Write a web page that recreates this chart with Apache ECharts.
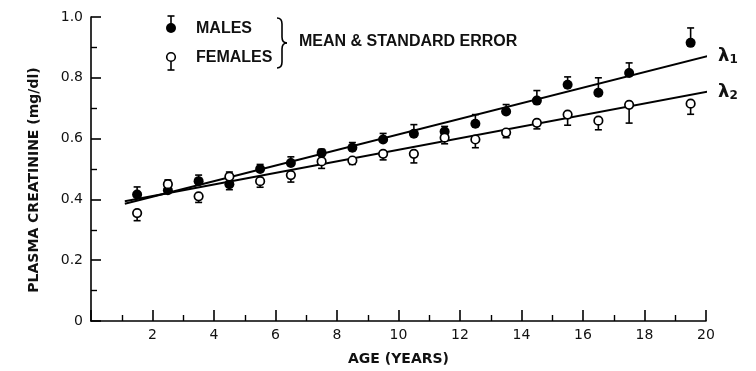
<!DOCTYPE html>
<html>
<head>
<meta charset="utf-8">
<script src="https://cdn.jsdelivr.net/npm/echarts@6/dist/echarts.min.js"></script>
<style>
  html, body { margin: 0; padding: 0; background: #fff; }
  #chart { width: 756px; height: 371px; }
</style>
</head>
<body>
<div id="chart"></div>
<script>
// age groups (years)
var ages = [1.5, 2.5, 3.5, 4.5, 5.5, 6.5, 7.5, 8.5, 9.5, 10.5, 11.5, 12.5, 13.5, 14.5, 15.5, 16.5, 17.5, 19.5];
// plasma creatinine mean and standard error (mg/dl)
var malesMean = [0.416, 0.43, 0.46, 0.45, 0.50, 0.52, 0.553, 0.57, 0.597, 0.616, 0.623, 0.649, 0.689, 0.725, 0.777, 0.751, 0.816, 0.915];
var malesSE = [0.025, 0.034, 0.02, 0.04, 0.015, 0.02, 0.012, 0.017, 0.02, 0.03, 0.017, 0.03, 0.023, 0.033, 0.026, 0.049, 0.033, 0.049];
var femalesMean = [0.355, 0.45, 0.41, 0.475, 0.46, 0.48, 0.525, 0.528, 0.55, 0.55, 0.603, 0.597, 0.62, 0.652, 0.679, 0.659, 0.711, 0.715];
var femalesSE = [0.025, 0.02, 0.02, 0.043, 0.02, 0.023, 0.023, 0.013, 0.02, 0.03, 0.02, 0.027, 0.017, 0.02, 0.035, 0.03, 0.06, 0.035];
// fitted lines, end points [age, value]
var lambda1 = [[1.1, 0.386], [20.2, 0.875]];
var lambda2 = [[1.1, 0.394], [20.2, 0.757]];
var yTicks = [0, 0.2, 0.4, 0.6, 0.8, 1.0];

var font = 'Liberation Sans, Arial, sans-serif';
var wide = 'DejaVu Sans, sans-serif';
var ink = { stroke: '#000', lineWidth: 1.6 };

function pairs(xs, ys, extra) {
  return xs.map(function (x, i) {
    return extra ? [x, ys[i], extra[i]] : [x, ys[i]];
  });
}

// error bar: dir 1 = upward, -1 = downward
function errorBar(dir) {
  return function (params, api) {
    var p0 = api.coord([api.value(0), api.value(1)]);
    var p1 = api.coord([api.value(0), api.value(1) + dir * api.value(2)]);
    return {
      type: 'group',
      children: [
        { type: 'line', shape: { x1: p0[0], y1: p0[1], x2: p1[0], y2: p1[1] }, style: ink },
        { type: 'line', shape: { x1: p1[0] - 3.5, y1: p1[1], x2: p1[0] + 3.5, y2: p1[1] }, style: ink }
      ]
    };
  };
}

function seg(x1, y1, x2, y2) {
  return { type: 'line', shape: { x1: x1, y1: y1, x2: x2, y2: y2 }, style: ink };
}
function curve(x1, y1, cx, cy, x2, y2) {
  return { type: 'bezierCurve', shape: { x1: x1, y1: y1, cpx1: cx, cpy1: cy, x2: x2, y2: y2 }, style: { stroke: '#000', lineWidth: 1.6, fill: null } };
}

var option = {
  animation: false,
  grid: { left: 91, right: 50, top: 17, bottom: 49 },
  xAxis: {
    type: 'value',
    min: 0,
    max: 20,
    interval: 2,
    name: 'AGE (YEARS)',
    nameLocation: 'middle',
    nameGap: 31,
    nameTextStyle: { fontFamily: wide, fontSize: 14, fontWeight: 'bold', color: '#111' },
    axisLine: { lineStyle: { color: '#000', width: 1.6 } },
    axisTick: { inside: true, length: 11, lineStyle: { color: '#000', width: 1.6 } },
    minorTick: { show: true, splitNumber: 2, length: 6, lineStyle: { color: '#000', width: 1.4 } },
    axisLabel: {
      fontFamily: wide, fontSize: 14, color: '#111', margin: 7,
      formatter: function (v) { return v === 0 ? '' : String(v); }
    },
    splitLine: { show: false }
  },
  yAxis: {
    type: 'value',
    min: 0,
    max: 1,
    interval: 0.2,
    name: 'PLASMA CREATININE (mg/dl)',
    nameLocation: 'middle',
    nameGap: 50,
    nameTextStyle: { fontFamily: wide, fontSize: 14, fontWeight: 'bold', color: '#111', padding: [0, 22, 0, 0] },
    axisLine: { lineStyle: { color: '#000', width: 1.6 } },
    axisTick: { inside: true, length: 10, lineStyle: { color: '#000', width: 1.6 } },
    minorTick: { show: true, splitNumber: 2, length: 6, lineStyle: { color: '#000', width: 1.4 } },
    axisLabel: {
      fontFamily: wide, fontSize: 14, color: '#111', margin: 8,
      formatter: function (v) {
        var t = yTicks.filter(function (k) { return Math.abs(k - v) < 1e-6; })[0];
        return t === 0 ? '0' : t.toFixed(1);
      }
    },
    splitLine: { show: false }
  },
  graphic: [
    // legend
    seg(171, 28, 171, 16),
    seg(167.5, 16, 174.5, 16),
    { type: 'circle', shape: { cx: 171, cy: 28, r: 5 }, style: { fill: '#000' } },
    seg(171, 57, 171, 70),
    seg(167.5, 70, 174.5, 70),
    { type: 'circle', shape: { cx: 171, cy: 57, r: 4.3 }, style: { fill: '#fff', stroke: '#000', lineWidth: 1.6 } },
    { type: 'text', x: 196, y: 21, style: { text: 'MALES', font: 'bold 16px ' + font, fill: '#111' } },
    { type: 'text', x: 196, y: 50, style: { text: 'FEMALES', font: 'bold 16px ' + font, fill: '#111' } },
    // brace
    curve(277, 18, 282, 18, 282, 24),
    seg(282, 24, 282, 37),
    curve(282, 37, 282, 43, 287, 43),
    curve(287, 43, 282, 43, 282, 49),
    seg(282, 49, 282, 62),
    curve(282, 62, 282, 68, 277, 68),
    { type: 'text', x: 299, y: 34, style: { text: 'MEAN & STANDARD ERROR', font: 'bold 16px ' + font, fill: '#111' } }
  ],
  series: [
    {
      type: 'line',
      data: lambda1,
      showSymbol: false,
      lineStyle: { color: '#000', width: 2 },
      endLabel: {
        show: true,
        distance: 11,
        formatter: 'λ{s|1}',
        fontFamily: wide, fontSize: 18, fontWeight: 'bold', color: '#111',
        rich: { s: { fontFamily: wide, fontSize: 12, fontWeight: 'bold', color: '#111', padding: [8, 0, 0, 0] } }
      },
      z: 3
    },
    {
      type: 'line',
      data: lambda2,
      showSymbol: false,
      lineStyle: { color: '#000', width: 2 },
      endLabel: {
        show: true,
        distance: 11,
        formatter: 'λ{s|2}',
        fontFamily: wide, fontSize: 18, fontWeight: 'bold', color: '#111',
        rich: { s: { fontFamily: wide, fontSize: 12, fontWeight: 'bold', color: '#111', padding: [8, 0, 0, 0] } }
      },
      z: 3
    },
    {
      type: 'custom',
      renderItem: errorBar(1),
      data: pairs(ages, malesMean, malesSE),
      z: 4
    },
    {
      type: 'custom',
      renderItem: errorBar(-1),
      data: pairs(ages, femalesMean, femalesSE),
      z: 4
    },
    {
      type: 'scatter',
      data: pairs(ages, malesMean),
      symbol: 'circle',
      symbolSize: 10,
      itemStyle: { color: '#000', opacity: 1 },
      z: 5
    },
    {
      type: 'scatter',
      data: pairs(ages, femalesMean),
      symbol: 'circle',
      symbolSize: 8.5,
      itemStyle: { color: '#fff', borderColor: '#000', borderWidth: 1.7, opacity: 1 },
      z: 6
    }
  ]
};

var myChart = echarts.init(document.getElementById('chart'));
myChart.setOption(option);
window.onresize = function () {
  myChart.resize();
};
</script>
</body>
</html>
